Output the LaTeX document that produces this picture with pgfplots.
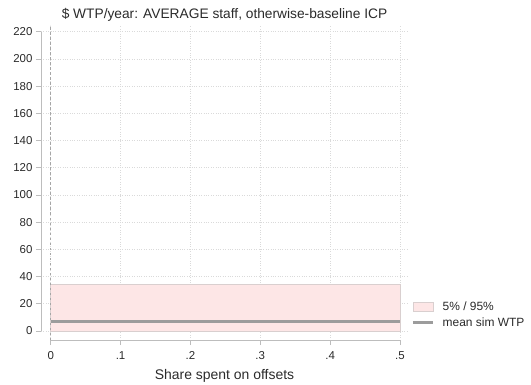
\documentclass[border=0pt]{standalone}
\usepackage{pgfplots}
\pgfplotsset{compat=1.18}
\usepackage{fontspec}
\setmainfont{Liberation Sans}
\definecolor{bandfill}{HTML}{FDE6E6}
\definecolor{banddraw}{HTML}{D9CFCF}
\definecolor{meangray}{HTML}{9C9C9C}
\definecolor{gridgray}{HTML}{DADADA}
\definecolor{axgray}{HTML}{BDBDBD}
\definecolor{txt}{HTML}{2A2A2A}
\pgfplotsset{
  boxlegend/.style={legend image code/.code={\draw[##1] (0bp,-4.5bp) rectangle (20bp,4.5bp);}},
  linelegend/.style={legend image code/.code={\draw[##1] (0bp,0bp) -- (20bp,0bp);}},
}
\begin{document}
\begin{tikzpicture}
\useasboundingbox (-41bp,-45bp) rectangle (490bp,340bp);
\begin{axis}[
  at={(0,0)}, anchor=south west,
  scale only axis, width=367bp, height=315bp,
  xmin=-0.0139, xmax=0.5115, ymin=-6.6, ymax=225,
  axis x line*=bottom, axis y line*=left,
  axis line style={draw=none},
  xtick={0,0.1,0.2,0.3,0.4,0.5},
  xticklabels={0,.1,.2,.3,.4,.5},
  ytick={0,20,...,220},
  /pgf/number format/assume math mode=true,
  tick align=outside, major tick length=5bp,
  tick style={axgray, line width=0.8pt},
  ticklabel style={font=\fontsize{11.5}{12}\selectfont, text=txt},
  xticklabel style={yshift=-3bp},
  grid=major,
  major grid style={gridgray, dotted, line width=0.7pt},
  xlabel={Share spent on offsets},
  xlabel style={font=\fontsize{14}{16}\selectfont, text=txt, yshift=-3bp},
  title={\$ WTP/year: AVERAGE staff, otherwise-baseline ICP},
  title style={font=\fontsize{13.8}{16}\selectfont, text=txt, yshift=-6bp},
  clip=false,
  legend style={at={(1,0)}, anchor=south west, xshift=0bp, yshift=8bp,
    draw=none, fill=none, font=\fontsize{12}{13}\selectfont, text=txt,
    row sep=2bp, /tikz/every odd column/.append style={column sep=6bp}},
  legend cell align=left,
]
\addplot[fill=bandfill, draw=banddraw, line width=0.8pt, boxlegend]
  coordinates {(0,0) (0.5,0) (0.5,34.3) (0,34.3)} -- cycle;
\addlegendentry{5\% / 95\%}
\addplot[meangray, line width=3.5pt, linelegend]
  coordinates {(0,7.1) (0.5,7.1)};
\addlegendentry{mean sim WTP}
\addplot[gray!70, dash pattern=on 2.5bp off 2.5bp, line width=0.9pt, forget plot] coordinates {(0,-6.6) (0,225)};
\draw[axgray, line width=0.9pt] (axis cs:-0.0139,0) -- (axis cs:-0.0139,220);
\draw[axgray, line width=0.9pt] (axis cs:0,-6.6) -- (axis cs:0.5,-6.6);
\end{axis}
\end{tikzpicture}
\end{document}
